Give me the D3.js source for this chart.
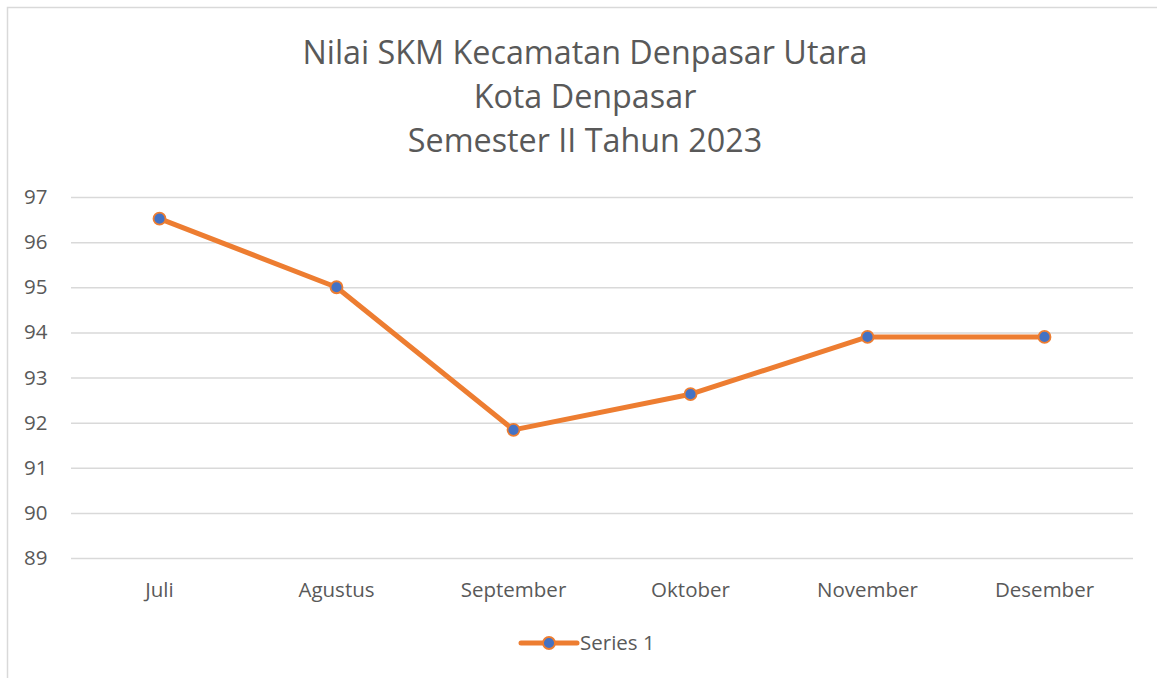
<!DOCTYPE html>
<html>
<head>
<meta charset="utf-8">
<script src="https://cdn.jsdelivr.net/npm/d3@7"></script>
<style>
  body { margin: 0; background: #fff; }
  svg text { font-family: "Open Sans", "Noto Sans", sans-serif; fill: #595959; }
</style>
</head>
<body>
<svg id="chart" width="1157" height="678"></svg>
<script>
let width = 1157,
  height = 678,
  margin = {top: 197, right: 24, bottom: 120, left: 71}

// data
const months = ["Juli", "Agustus", "September", "Oktober", "November", "Desember"];
const values = [96.52, 95.0, 91.84, 92.63, 93.9, 93.9];
const yTicks = [89, 90, 91, 92, 93, 94, 95, 96, 97];
const titleLines = ["Nilai SKM Kecamatan Denpasar Utara", "Kota Denpasar", "Semester II Tahun 2023"];
const seriesName = "Series 1";

const orange = "#ED7D31", blue = "#4472C4", grid = "#D9D9D9";

let svg = d3.select("#chart");

// outer chart frame (only top and left edges visible in the crop)
svg.append("rect")
  .attr("x", 7.5).attr("y", 7.5)
  .attr("width", width + 20).attr("height", height + 20)
  .attr("fill", "none").attr("stroke", grid).attr("stroke-width", 1.5);

let x = d3.scaleBand()
  .domain(months)
  .range([margin.left, width - margin.right]);

let y = d3.scaleLinear()
  .domain([89, 97])
  .range([558, 197]);

// title
svg.append("g").selectAll("text")
  .data(titleLines).enter()
  .append("text")
  .attr("x", 585)
  .attr("y", (d, i) => 64 + i * 44)
  .attr("text-anchor", "middle")
  .style("font-size", "32.3px")
  .text(d => d);

// gridlines + y labels
let yAxis = d3.axisLeft(y)
  .tickValues(yTicks)
  .tickSize(-(x.range()[1] - x.range()[0]))
  .tickPadding(23);

svg.append("g")
  .attr("transform", `translate(${margin.left},0)`)
  .call(yAxis)
  .call(g => g.select(".domain").remove())
  .call(g => g.selectAll(".tick line").attr("stroke", grid).attr("stroke-width", 1.5))
  .call(g => g.selectAll(".tick text")
    .attr("fill", "#595959")
    .style("font-size", "20.5px")
    .attr("text-anchor", "start")
    .attr("x", -71 + 24));

// x labels
let xAxis = d3.axisBottom(x).tickSize(0).tickPadding(24);
svg.append("g")
  .attr("transform", `translate(0,558)`)
  .call(xAxis)
  .call(g => g.select(".domain").remove())
  .call(g => g.selectAll(".tick text")
    .attr("fill", "#595959")
    .style("font-size", "20.5px"));

let cx = d => x(d) + x.bandwidth() / 2;
let line = d3.line()
  .x((d, i) => cx(months[i]))
  .y(d => y(d));

svg.append("path")
  .datum(values)
  .attr("d", line)
  .attr("fill", "none")
  .attr("stroke", orange)
  .attr("stroke-width", 5)
  .attr("stroke-linejoin", "round");

svg.append("g").selectAll("circle")
  .data(values).enter()
  .append("circle")
  .attr("cx", (d, i) => cx(months[i]))
  .attr("cy", d => y(d))
  .attr("r", 6)
  .attr("fill", blue)
  .attr("stroke", orange)
  .attr("stroke-width", 1.8);

// legend
let legend = svg.append("g").attr("transform", "translate(521,643)");
legend.append("line")
  .attr("x1", 0).attr("x2", 56)
  .attr("stroke", orange).attr("stroke-width", 5)
  .attr("stroke-linecap", "round");
legend.append("circle")
  .attr("cx", 28).attr("r", 6)
  .attr("fill", blue).attr("stroke", orange).attr("stroke-width", 1.8);
legend.append("text")
  .attr("x", 59).attr("dy", "0.35em")
  .style("font-size", "20.5px")
  .text(seriesName);
</script>
</body>
</html>
